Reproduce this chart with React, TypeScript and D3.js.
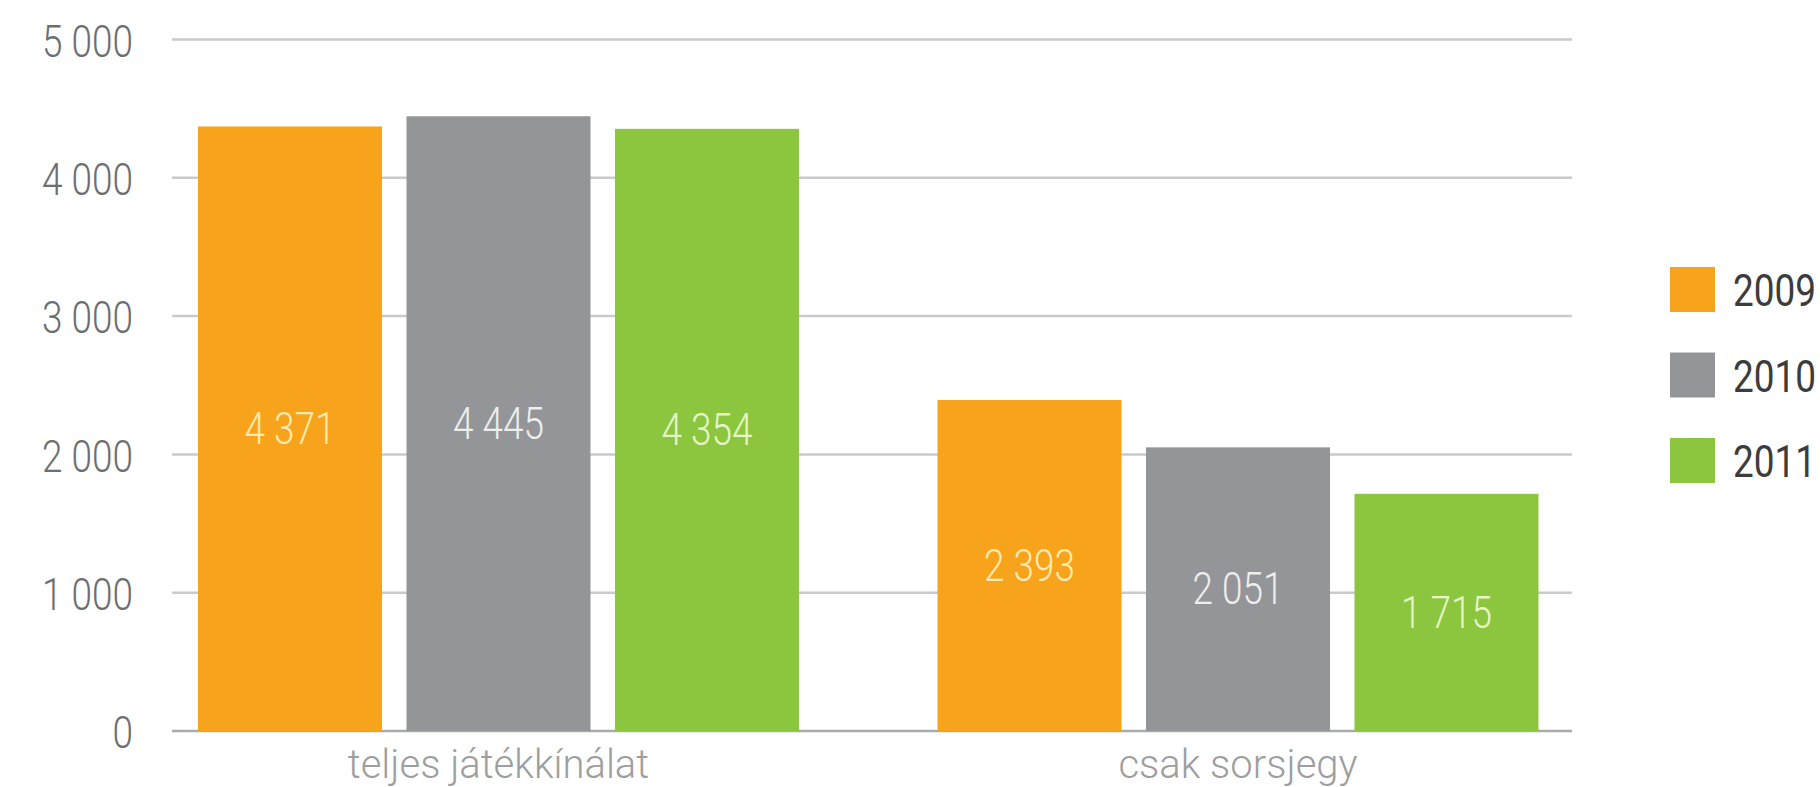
import React from "react";
import * as d3 from "d3";

const categories = ["teljes játékkínálat", "csak sorsjegy"];
const years = ["2009", "2010", "2011"];
const values2009 = [4371, 2393];
const values2010 = [4445, 2051];
const values2011 = [4354, 1715];
const yTicks = [0, 1000, 2000, 3000, 4000, 5000];

const series = [
  { year: years[0], values: values2009 },
  { year: years[1], values: values2010 },
  { year: years[2], values: values2011 },
];

const colors: Record<string, string> = { "2009": "#f7a31b", "2010": "#939598", "2011": "#8cc63f" };
const labelColors: Record<string, string> = { "2009": "#fdeab0", "2010": "#eeeeee", "2011": "#e6f6c8" };

const W = 1820;
const H = 787;
const FONT = "Roboto, 'Noto Sans', sans-serif";
const SX = 0.84;

const locale = d3.formatLocale({ decimal: ",", thousands: " ", grouping: [3], currency: ["", ""] });
const fmt = locale.format(",");

function NarrowText(props: {
  x: number;
  y: number;
  anchor: "start" | "middle" | "end";
  fill: string;
  size?: number;
  weight?: number;
  children: React.ReactNode;
}) {
  return (
    <text
      transform={`translate(${props.x},${props.y}) scale(${SX},1)`}
      textAnchor={props.anchor}
      dominantBaseline="central"
      fontFamily={FONT}
      fontSize={props.size ?? 44}
      fontWeight={props.weight ?? 300}
      fill={props.fill}
    >
      {props.children}
    </text>
  );
}

export default function App() {
  const y = d3.scaleLinear().domain([0, 5000]).range([731, 39.5]);
  const x0 = d3.scaleBand<string>().domain(categories).range([198, 1538.5]).paddingInner(0.1873).paddingOuter(0);
  const x1 = d3.scaleBand<string>().domain(years).range([0, x0.bandwidth()]).paddingInner(0.1175);
  const legendY = d3.scalePoint<string>().domain(years).range([267, 438]);
  const gridX0 = 172;
  const gridX1 = 1572;

  return (
    <svg width={W} height={H} style={{ position: "absolute", left: 0, top: 0, background: "#fff" }}>
      <g>
        {yTicks.map((t) => (
          <g key={t}>
            <line x1={gridX0} x2={gridX1} y1={y(t)} y2={y(t)} stroke={t === 0 ? "#a9aaac" : "#c9cacc"} strokeWidth={2.5} />
            <NarrowText x={133} y={y(t) + 2} anchor="end" fill="#6d6e71">
              {fmt(t)}
            </NarrowText>
          </g>
        ))}
      </g>
      {categories.map((c, ci) => (
        <g key={c} transform={`translate(${x0(c)},0)`}>
          {series.map((s) => {
            const v = s.values[ci];
            const bx = x1(s.year)!;
            const top = y(v);
            const bottom = y(0);
            return (
              <g key={s.year}>
                <rect x={bx} y={top} width={x1.bandwidth()} height={bottom - top} fill={colors[s.year]} />
                <NarrowText x={bx + x1.bandwidth() / 2} y={(top + bottom) / 2} anchor="middle" fill={labelColors[s.year]}>
                  {fmt(v)}
                </NarrowText>
              </g>
            );
          })}
          <text
            x={x0.bandwidth() / 2}
            y={778}
            textAnchor="middle"
            fontFamily={FONT}
            fontWeight={300}
            fontSize={40}
            fill="#9d9ea0"
          >
            {c}
          </text>
        </g>
      ))}
      <g>
        {years.map((yr) => (
          <g key={yr} transform={`translate(1670,${legendY(yr)})`}>
            <rect width={45} height={45} fill={colors[yr]} />
            <NarrowText x={63} y={24} anchor="start" fill="#3c3c3c" weight={400}>
              {yr}
            </NarrowText>
          </g>
        ))}
      </g>
    </svg>
  );
}
